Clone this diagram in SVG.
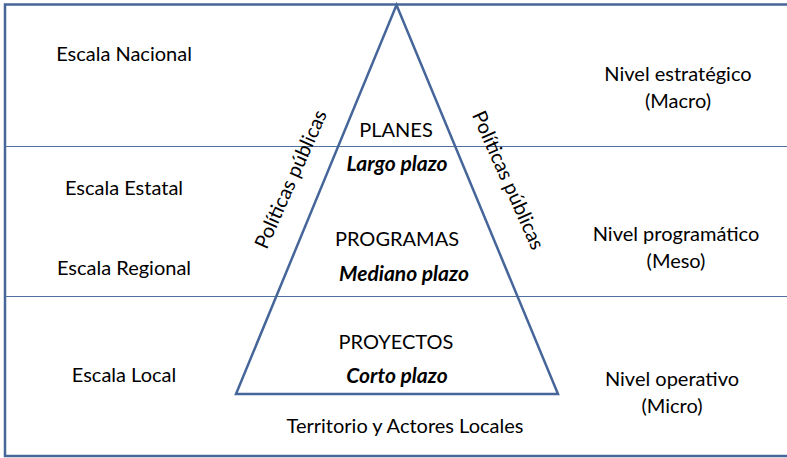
<svg xmlns="http://www.w3.org/2000/svg" width="787" height="458" viewBox="0 0 787 458">
<style>
text{font-family:Lato,"Open Sans","Liberation Sans",sans-serif;font-size:20px;fill:#000;text-anchor:middle}
.bi{font-weight:bold;font-style:italic;font-size:21px}
.ln{stroke:#4f6f9c;stroke-width:1.2;fill:none}
.frame{stroke:#46669a;stroke-width:2.5;fill:none}
.tri{stroke:#46669a;stroke-width:2.5;fill:none;stroke-linejoin:miter}
</style>
<rect width="787" height="458" fill="#fff"/>
<g id="frame">
<path class="frame" d="M790,4.5 H5 V456 H790"/>
</g>
<g id="bands">
<line class="ln" x1="5" y1="146.5" x2="787" y2="146.5"/>
<line class="ln" x1="5" y1="296.5" x2="787" y2="296.5"/>
</g>
<g id="pyramid">
<polygon class="tri" points="396.5,5 558,394 236,394"/>
</g>
<g id="scales">
<text x="124" y="61">Escala Nacional</text>
<text x="124" y="195">Escala Estatal</text>
<text x="124" y="275">Escala Regional</text>
<text x="124" y="382">Escala Local</text>
</g>
<g id="levels">
<text x="678" y="81">Nivel estratégico</text>
<text x="678" y="108">(Macro)</text>
<text x="676" y="241">Nivel programático</text>
<text x="676" y="268">(Meso)</text>
<text x="672" y="386">Nivel operativo</text>
<text x="672" y="413">(Micro)</text>
</g>
<g id="planes">
<text x="396" y="137">PLANES</text>
<text class="bi" x="397" y="171">Largo plazo</text>
</g>
<g id="programas">
<text x="397" y="246">PROGRAMAS</text>
<text class="bi" x="404" y="281">Mediano plazo</text>
</g>
<g id="proyectos">
<text x="396" y="349">PROYECTOS</text>
<text class="bi" x="397" y="383">Corto plazo</text>
</g>
<g id="base">
<text x="405" y="433">Territorio y Actores Locales</text>
</g>
<g id="policies">
<text transform="translate(297,182) rotate(-66)">Políticas públicas</text>
<text transform="translate(502,183) rotate(66)">Políticas públicas</text>
</g>
</svg>
